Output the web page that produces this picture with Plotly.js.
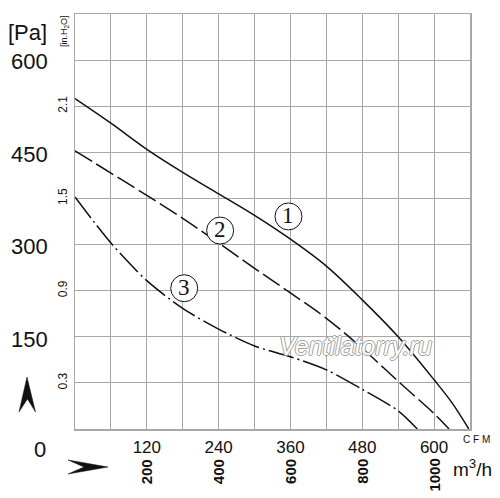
<!DOCTYPE html>
<html>
<head>
<meta charset="utf-8">
<script src="https://cdn.plot.ly/plotly-3.0.1.min.js"></script>
<style>
html,body{margin:0;padding:0;background:#fff;}
#chart{width:500px;height:498px;}
</style>
</head>
<body>
<div id="chart"></div>
<script>
// ---- data (airflow in CFM, static pressure in in.H2O) ----
const curve1X = [0, 60, 120, 180, 240, 300, 360, 420, 480, 540, 600, 630, 658];
const curve1Y = [2.15, 1.99, 1.82, 1.67, 1.53, 1.39, 1.235, 1.06, 0.84, 0.60, 0.32, 0.17, 0];
const curve2X = [0, 60, 120, 180, 240, 300, 360, 420, 480, 540, 600, 625];
const curve2Y = [1.81, 1.665, 1.52, 1.37, 1.21, 1.045, 0.885, 0.72, 0.525, 0.31, 0.10, 0];
const curve3X = [0, 60, 120, 180, 240, 300, 360, 420, 480, 540, 572];
const curve3Y = [1.51, 1.21, 0.965, 0.785, 0.65, 0.54, 0.47, 0.385, 0.258, 0.118, 0];
const curveNames = ["1", "2", "3"];

const cfmTicks = [120, 240, 360, 480, 600];
const m3hLabels = ["200", "400", "600", "800", "1000"];
const inH2OTicks = [0.3, 0.9, 1.5, 2.1];
const paTicks = [150, 300, 450, 600];
const PA_PER_INH2O = 249.1;

// ---- layout geometry ----
const W = 500, H = 498, L = 75, R = 30, T = 14, B = 69;
const PW = W - L - R, PH = H - T - B;
function px(x) { return (x - L) / PW; }
function py(y) { return (H - B - y) / PH; }
function P(x, y) { return px(x).toFixed(4) + ',' + py(y).toFixed(4); }

const SANS = '"Liberation Sans", Arial, sans-serif';
const SERIF = '"Liberation Serif", "DejaVu Serif", serif';
const GRID = '#a8a8a8';
const INK = '#111';

const traces = [
  {x: curve1X, y: curve1Y, name: curveNames[0], mode: 'lines',
   line: {color: INK, width: 1.5, shape: 'spline', smoothing: 1}},
  {x: curve2X, y: curve2Y, name: curveNames[1], mode: 'lines',
   line: {color: INK, width: 1.5, shape: 'spline', smoothing: 1, dash: '20px,5px'}},
  {x: curve3X, y: curve3Y, name: curveNames[2], mode: 'lines',
   line: {color: INK, width: 1.5, shape: 'spline', smoothing: 0.8, dash: '26px,4px,2px,4px'}}
];

const annotations = [];
const shapes = [];
function note(o) {
  annotations.push(Object.assign({showarrow: false, xanchor: 'center', yanchor: 'middle'}, o));
}

// circled curve labels
const labelPos = [[356.7, 1.383], [242.5, 1.291], [182.5, 0.916]];
labelPos.forEach((p, i) => {
  shapes.push({type: 'circle', xref: 'x', yref: 'y', xsizemode: 'pixel', ysizemode: 'pixel',
    xanchor: p[0], yanchor: p[1], x0: -13.5, x1: 13.5, y0: -13.5, y1: 13.5,
    fillcolor: '#fff', line: {color: INK, width: 1}, layer: 'above'});
  note({xref: 'x', yref: 'y', x: p[0], y: p[1], text: curveNames[i],
    font: {family: SERIF, size: 23, color: INK}, yshift: 1});
});

// Pa scale labels
paTicks.forEach(v => {
  note({xref: 'paper', yref: 'y', x: px(29), y: v / PA_PER_INH2O, text: String(v),
    font: {family: SANS, size: 22, color: INK}, yshift: -3});
});
note({xref: 'paper', yref: 'paper', x: px(40), y: py(449), text: '0',
  font: {family: SANS, size: 22, color: INK}});
note({xref: 'paper', yref: 'paper', x: px(27), y: py(33), text: '[Pa]',
  font: {family: SANS, size: 22, color: INK}});
note({xref: 'paper', yref: 'paper', x: px(64), y: py(31), text: '[in.H<sub>2</sub>O]',
  textangle: -90, font: {family: SANS, size: 9, color: INK}});

// m3/h labels
m3hLabels.forEach((t, i) => {
  note({xref: 'x', yref: 'paper', x: cfmTicks[i], y: py(457), yanchor: 'top',
    text: t, textangle: -90,
    font: {family: SANS, size: 15, color: INK, weight: 'bold'}});
});
note({xref: 'paper', yref: 'paper', x: px(472), y: py(468), text: 'm<sup>3</sup>/h',
  font: {family: SANS, size: 19, color: INK}});
note({xref: 'paper', yref: 'paper', x: px(476), y: py(439), text: 'C F M',
  font: {family: SANS, size: 10, color: INK}});

// watermark
note({xref: 'paper', yref: 'paper', x: px(355), y: py(346), text: 'Ventilatorry.ru',
  font: {family: SANS, size: 25, color: '#fff', style: 'italic',
  shadow: '1px 0 0 #a0a0a0, -1px 0 0 #a0a0a0, 0 1px 0 #a0a0a0, 0 -1px 0 #a0a0a0'}});

// arrow heads
shapes.push({type: 'path', xref: 'paper', yref: 'paper', layer: 'above',
  path: 'M' + P(27, 377) + ' L' + P(35.5, 412) + ' L' + P(27.5, 399) + ' L' + P(19, 412) + ' Z',
  fillcolor: INK, line: {color: INK, width: 0.5}});
shapes.push({type: 'path', xref: 'paper', yref: 'paper', layer: 'above',
  path: 'M' + P(108, 467) + ' L' + P(68, 460) + ' L' + P(84, 467) + ' L' + P(68, 474) + ' Z',
  fillcolor: INK, line: {color: INK, width: 0.5}});

const layout = {
  width: W, height: H,
  margin: {l: L, r: R, t: T, b: B, pad: 0},
  paper_bgcolor: '#fff', plot_bgcolor: '#fff',
  showlegend: false,
  xaxis: {range: [0, 660], tickvals: cfmTicks, ticktext: cfmTicks.map(String),
    showgrid: true, gridcolor: GRID, gridwidth: 1,
    minor: {dtick: 60, tick0: 0, showgrid: true, gridcolor: GRID, gridwidth: 1},
    showline: true, mirror: true, linecolor: GRID, linewidth: 1.5,
    zeroline: false, ticks: '', ticklabelstandoff: 2,
    tickfont: {family: SANS, size: 17, color: INK}},
  yaxis: {range: [0, 2.7], tickvals: inH2OTicks, ticktext: inH2OTicks.map(v => v.toFixed(1)),
    showgrid: true, gridcolor: GRID, gridwidth: 1,
    minor: {dtick: 0.3, tick0: 0, showgrid: true, gridcolor: GRID, gridwidth: 1},
    showline: true, mirror: true, linecolor: GRID, linewidth: 1.5,
    zeroline: false, ticks: '', tickangle: -90, ticklabelstandoff: 2,
    tickfont: {family: SANS, size: 12, color: INK}},
  annotations: annotations,
  shapes: shapes
};

Plotly.newPlot('chart', traces, layout, {displayModeBar: false, staticPlot: true});
</script>
</body>
</html>
